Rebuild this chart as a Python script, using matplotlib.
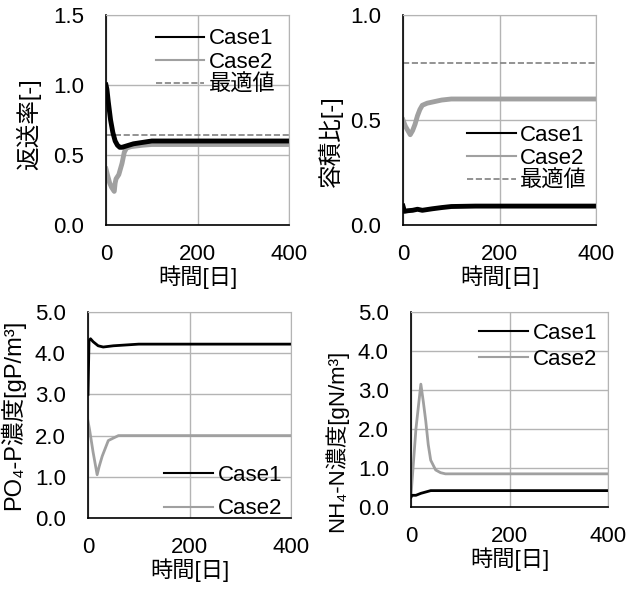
import matplotlib
matplotlib.use('Agg')
import matplotlib.pyplot as plt
from matplotlib.lines import Line2D

plt.rcParams['font.family'] = ['Liberation Sans', 'Noto Sans CJK JP', 'DejaVu Sans']

# return ratio
t_ret1 = [0, 2, 5, 10, 15, 20, 25, 30, 35, 40, 50, 60, 80, 100, 150, 200, 300, 400]
ret_case1 = [1.0, 0.97, 0.88, 0.75, 0.66, 0.60, 0.57, 0.555, 0.555, 0.56, 0.57, 0.58, 0.59, 0.60, 0.60, 0.60, 0.60, 0.60]
t_ret2 = [0, 3, 8, 12, 18, 20, 22, 28, 35, 40, 45, 55, 80, 100, 200, 300, 400]
ret_case2 = [0.40, 0.36, 0.30, 0.27, 0.24, 0.30, 0.33, 0.36, 0.44, 0.52, 0.55, 0.56, 0.57, 0.575, 0.575, 0.575, 0.575]
ret_opt = 0.64

# volume ratio
t_vol1 = [0, 3, 10, 20, 30, 40, 60, 80, 100, 150, 200, 300, 400]
vol_case1 = [0.09, 0.065, 0.068, 0.07, 0.075, 0.07, 0.077, 0.083, 0.088, 0.09, 0.09, 0.09, 0.09]
t_vol2 = [0, 5, 10, 15, 20, 25, 30, 35, 40, 50, 80, 100, 200, 300, 400]
vol_case2 = [0.50, 0.47, 0.45, 0.43, 0.45, 0.48, 0.52, 0.55, 0.57, 0.58, 0.595, 0.60, 0.60, 0.60, 0.60]
vol_opt = 0.77

# PO4-P
t_po1 = [0, 2, 5, 10, 20, 30, 50, 100, 200, 300, 400]
po_case1 = [3.0, 4.3, 4.35, 4.28, 4.18, 4.15, 4.18, 4.22, 4.22, 4.22, 4.22]
t_po2 = [0, 3, 10, 18, 22, 28, 40, 60, 100, 200, 300, 400]
po_case2 = [2.35, 2.15, 1.6, 1.05, 1.25, 1.5, 1.88, 2.0, 2.0, 2.0, 2.0, 2.0]

# NH4-N
t_nh1 = [0, 2, 10, 20, 40, 60, 100, 200, 300, 400]
nh_case1 = [0.25, 0.30, 0.30, 0.35, 0.42, 0.42, 0.42, 0.42, 0.42, 0.42]
t_nh2 = [0, 10, 20, 25, 30, 35, 40, 50, 60, 70, 100, 200, 300, 400]
nh_case2 = [0.30, 2.0, 3.15, 2.7, 2.2, 1.6, 1.2, 0.95, 0.88, 0.85, 0.85, 0.85, 0.85, 0.85]

W, H = 629, 589
fig = plt.figure(figsize=(W / 100, H / 100), dpi=100)

GRID = '#b4b4b4'
C2 = '#a0a0a0'
OPT = '#808080'
FS = 16
LFS = 16


def make_ax(l, r, t, b, ymax, yticks, fmt):
    ax = fig.add_axes([l / W, 1 - b / H, (r - l) / W, (b - t) / H])
    ax.set_xlim(0, 400)
    ax.set_ylim(0, ymax)
    ax.set_xticks([0, 200, 400])
    ax.set_yticks(yticks)
    ax.set_yticklabels([fmt % v for v in yticks])
    ax.grid(True, color=GRID, lw=1)
    ax.set_axisbelow(True)
    for s in ['top', 'right']:
        ax.spines[s].set_color(GRID)
    for s in ['left', 'bottom']:
        ax.spines[s].set_color('black')
        ax.spines[s].set_linewidth(1.2)
    ax.tick_params(length=0, labelsize=FS)
    ax.tick_params(axis='y', pad=16)
    ax.tick_params(axis='x', pad=14)
    ax.set_xlabel('時間[日]', fontsize=LFS, labelpad=0)
    return ax


def handles(with_opt):
    h = [Line2D([], [], color='black', lw=1.5, label='Case1'),
         Line2D([], [], color=C2, lw=1.5, label='Case2')]
    if with_opt:
        h.append(Line2D([], [], color=OPT, lw=1.2, ls='--', label='最適値'))
    return h


# panel 1
ax = make_ax(106, 289, 15, 225, 1.5, [0.0, 0.5, 1.0, 1.5], '%.1f')
ax.axhline(ret_opt, color=OPT, ls='--', lw=1.2)
ax.plot(t_ret2, ret_case2, color=C2, lw=3.5)
ax.plot(t_ret1, ret_case1, color='black', lw=3.5)
ax.set_ylabel('返送率[-]', fontsize=17)
ax.yaxis.set_label_coords(-0.355, 0.48)
ax.legend(handles=handles(True), loc='upper right', bbox_to_anchor=(1.0, 1.0),
          frameon=False, fontsize=FS, handlelength=2.2, handletextpad=0.2,
          labelspacing=0.1, borderaxespad=0.2)

# panel 2
ax = make_ax(403, 596, 15, 225, 1.0, [0.0, 0.5, 1.0], '%.1f')
ax.axhline(vol_opt, color=OPT, ls='--', lw=1.2)
ax.plot(t_vol2, vol_case2, color=C2, lw=3.5)
ax.plot(t_vol1, vol_case1, color='black', lw=3.5)
ax.set_ylabel('容積比[-]', fontsize=17)
ax.yaxis.set_label_coords(-0.31, 0.40)
ax.legend(handles=handles(True), loc='upper right', bbox_to_anchor=(1.0, 0.52),
          frameon=False, fontsize=FS, handlelength=2.2, handletextpad=0.2,
          labelspacing=0.1, borderaxespad=0.0)

# panel 3
ax = make_ax(88, 291, 312, 518, 5.0, [0.0, 1.0, 2.0, 3.0, 4.0, 5.0], '%.1f')
ax.plot(t_po2, po_case2, color=C2, lw=2)
ax.plot(t_po1, po_case1, color='black', lw=2)
ax.set_ylabel('PO₄-P濃度[gP/m³]', fontsize=17)
ax.yaxis.set_label_coords(-0.31, 0.5)
ax.legend(handles=handles(False), loc='lower right', bbox_to_anchor=(1.0, -0.05),
          frameon=False, fontsize=FS, handlelength=2.2, handletextpad=0.2,
          labelspacing=0.55, borderaxespad=0.0)

# panel 4
ax = make_ax(411, 608, 312, 507, 5.0, [0.0, 1.0, 2.0, 3.0, 4.0, 5.0], '%.1f')
ax.plot(t_nh2, nh_case2, color=C2, lw=2)
ax.plot(t_nh1, nh_case1, color='black', lw=2)
ax.set_ylabel('NH₄-N濃度[gN/m³]', fontsize=16)
ax.yaxis.set_label_coords(-0.32, 0.34)
ax.legend(handles=handles(False), loc='upper right', bbox_to_anchor=(1.0, 1.0),
          frameon=False, fontsize=FS, handlelength=2.2, handletextpad=0.2,
          labelspacing=0.2, borderaxespad=0.1)

fig.savefig('out.png', dpi=100)
